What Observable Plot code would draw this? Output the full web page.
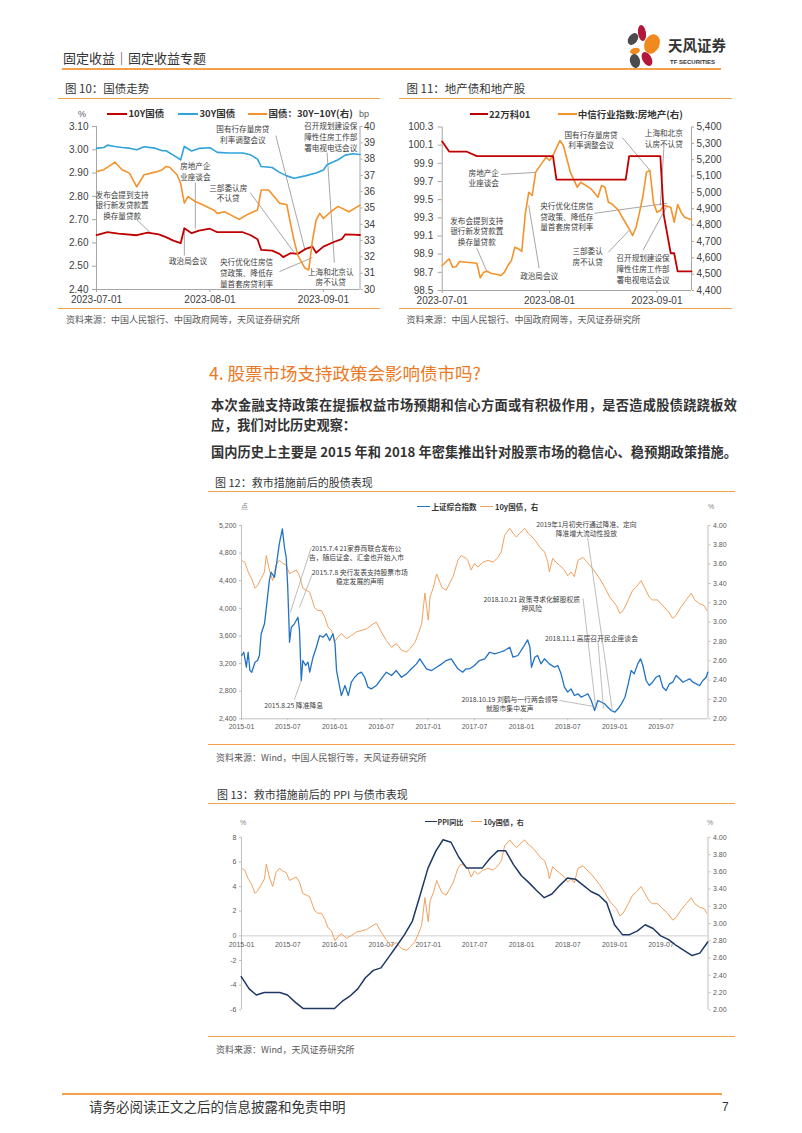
<!DOCTYPE html>
<html lang="zh-CN">
<head>
<meta charset="utf-8">
<title>固定收益专题</title>
<script src="https://cdn.jsdelivr.net/npm/d3@7"></script>
<script src="https://cdn.jsdelivr.net/npm/@observablehq/plot@0.6"></script>
<style>
html,body{margin:0;padding:0;background:#fff;}
#page{position:relative;width:802px;height:1133px;overflow:hidden;background:#fff;font-family:"Noto Sans CJK SC","Noto Sans",sans-serif;color:#333;}
.t{position:absolute;white-space:nowrap;line-height:1;}
.j{position:absolute;line-height:1;text-align:justify;text-align-last:justify;white-space:normal;}
.r{position:absolute;height:0;}
</style>
</head>
<body>
<div id="page"></div>
<script>
// ================= DATA =================
// Chart 10: 国债走势 (2023)
const c10Dates10Y = ["07-01","07-04","07-07","07-12","07-15","07-18","07-20","07-22","07-24","07-25",
  "07-27","07-29","08-01","08-03","08-10","08-12","08-14","08-15","08-18","08-20",
  "08-21","08-23","08-25","08-27","08-29","08-30","09-01","09-04","09-06","09-07",
  "09-09","09-11"];
const c10Vals10Y = [2.634,2.646,2.640,2.633,2.644,2.637,2.625,2.610,2.599,2.663,
  2.642,2.653,2.661,2.646,2.646,2.634,2.616,2.570,2.567,2.553,
  2.539,2.556,2.553,2.573,2.584,2.558,2.584,2.605,2.616,2.637,
  2.636,2.634];
const c10Dates30Y = ["07-01","07-03","07-04","07-06","07-08","07-10","07-12","07-14","07-17","07-19",
  "07-20","07-22","07-24","07-25","07-27","07-29","08-01","08-03","08-06","08-10",
  "08-12","08-14","08-15","08-18","08-20","08-22","08-24","08-27","08-30","09-01",
  "09-02","09-05","09-07","09-09","09-11"];
const c10Vals30Y = [3.006,3.010,3.020,3.014,3.010,3.007,3.000,3.013,3.007,2.996,
  2.996,2.977,2.957,3.014,2.995,3.006,3.009,2.989,2.986,2.986,
  2.979,2.960,2.928,2.924,2.903,2.888,2.878,2.888,2.900,2.913,
  2.936,2.957,2.977,2.983,2.980];
const c10DatesSpread = ["07-01","07-03","07-05","07-06","07-08","07-10","07-12","07-14","07-17","07-19",
  "07-20","07-21","07-23","07-24","07-25","07-26","07-28","07-30","08-02","08-03",
  "08-05","08-09","08-11","08-14","08-15","08-17","08-18","08-20","08-22","08-23",
  "08-24","08-25","08-27","08-28","08-29","08-30","08-31","09-01","09-03","09-05",
  "09-07","09-08","09-11"];
const c10ValsSpread = [37.24,37.35,37.65,37.82,37.35,37.14,36.3,37.04,37.2,37.35,
  37.55,37.5,37.04,36.5,35.3,35.7,35.4,35.2,34.88,34.67,
  34.77,34.3,34.57,34.88,36.1,36.1,35.85,35.3,35.2,34.06,
  33.0,32.1,31.3,31.2,33.0,34.26,34.67,34.36,34.77,35.1,
  34.88,34.77,35.18];
const c10XTicks = ["2023-07-01","2023-08-01","2023-09-01"];
const c10LeftTicks = [2.40,2.50,2.60,2.70,2.80,2.90,3.00,3.10];
const c10RightTicks = [30,31,32,33,34,35,36,37,38,39,40];
const c10AnnText = ["国有行存量房贷\n利率调整会议","召开规划建设保\n障性住房工作部\n署电视电话会议","房地产企\n业座谈会",
  "三部委认房\n不认贷","发布会提到支持\n银行新发贷款置\n换存量贷款","政治局会议",
  "央行优化住房信\n贷政策、降低存\n量首套房贷利率","上海和北京认\n房不认贷"];
const c10AnnDate = ["08-10","09-03","07-28","08-06","07-08","07-26","08-11","09-03"];
const c10AnnVal = [3.068,3.057,2.909,2.816,2.763,2.525,2.473,2.456];
const c10LeadFrom = ["08-19","09-02","07-28","08-12","07-12","07-25","08-20"];
const c10LeadFromV = [3.061,2.988,2.859,2.816,2.700,2.546,2.477];
const c10LeadTo = ["08-27","09-04","07-28","08-24","07-16","07-25","08-29"];
const c10LeadToV = [2.567,2.516,2.662,2.559,2.640,2.662,2.537];

// Chart 11: 地产债和地产股 (2023)
const c11DatesBond = ["07-01","07-03","07-08","07-11","08-02","08-03","08-23","08-24","09-02","09-03","09-05","09-06","09-07","09-11"];
const c11ValsBond = [100.14,100.03,100.03,99.98,99.98,99.72,99.72,99.98,99.98,99.33,98.91,98.91,98.71,98.71];
const c11DatesIdx = ["07-01","07-03","07-04","07-05","07-06","07-08","07-11","07-12","07-13","07-14",
  "07-15","07-17","07-18","07-19","07-20","07-21","07-22","07-23","07-24","07-25",
  "07-26","07-27","07-28","07-30","07-31","08-01","08-02","08-04","08-05","08-07",
  "08-09","08-10","08-13","08-15","08-16","08-17","08-18","08-19","08-21","08-22",
  "08-24","08-25","08-26","08-27","08-28","08-29","08-30","08-31","09-01","09-02",
  "09-03","09-05","09-06","09-07","09-08","09-09","09-11"];
const c11ValsIdx = [4553,4594,4543,4545,4577,4573,4567,4478,4512,4518,
  4506,4498,4492,4512,4553,4584,4665,4655,4640,4869,
  5001,4981,5124,5185,5215,5195,5226,5317,5287,5124,
  5032,5062,5022,4971,5042,5032,4940,4930,4889,4848,
  4777,4736,4787,4879,4981,5124,5134,4940,4879,4889,
  4920,4909,4818,4926,4879,4848,4832];
const c11XTicks = ["2023-07-01","2023-08-01","2023-09-01"];
const c11LeftTicks = [98.5,98.7,98.9,99.1,99.3,99.5,99.7,99.9,100.1,100.3];
const c11RightTicks = [4400,4500,4600,4700,4800,4900,5000,5100,5200,5300,5400];
const c11AnnText = ["国有行存量房贷\n利率调整会议","上海和北京\n认房不认贷","房地产企\n业座谈会",
  "央行优化住房信\n贷政策、降低存\n量首套房贷利率","发布会提到支持\n银行新发贷款置\n换存量贷款","政治局会议",
  "三部委认\n房不认贷","召开规划建设保\n障性住房工作部\n署电视电话会议"];
const c11AnnDate = ["08-13","09-03","07-13","08-06","07-11","07-29","08-12","08-28"];
const c11AnnVal = [100.163,100.179,99.745,99.316,99.157,98.668,98.882,98.74];
const c11LeadFrom = ["08-22","09-03","07-18","08-14","07-11","07-29","08-18","08-28"];
const c11LeadFromV = [100.184,100.064,99.778,99.35,98.965,98.745,98.921,98.943];
const c11LeadTo = ["08-30","09-02","07-28","09-04","07-14","07-26","08-24","09-04"];
const c11LeadToV = [99.822,99.437,99.80,99.46,98.70,99.437,99.163,99.437];

// Chart 12/13: 上证综合指数 & 10y国债 (2015-2019)
const shDates = ["2015-01-02","2015-01-10","2015-01-20","2015-01-27","2015-02-03","2015-02-10","2015-02-23","2015-03-05","2015-03-12","2015-03-19",
  "2015-04-01","2015-04-08","2015-04-20","2015-04-27","2015-05-10","2015-05-19","2015-05-29","2015-06-10","2015-06-18","2015-06-25",
  "2015-07-01","2015-07-05","2015-07-08","2015-07-15","2015-07-27","2015-08-10","2015-08-16","2015-08-23","2015-08-29","2015-09-09",
  "2015-09-18","2015-09-25","2015-10-08","2015-10-21","2015-11-03","2015-11-16","2015-11-29","2015-12-12","2015-12-25","2016-01-02",
  "2016-01-08","2016-01-18","2016-01-27","2016-02-10","2016-02-23","2016-03-06","2016-03-19","2016-04-01","2016-04-14","2016-04-27",
  "2016-05-10","2016-05-23","2016-06-12","2016-07-01","2016-07-21","2016-08-10","2016-08-29","2016-09-18","2016-10-08","2016-10-27",
  "2016-11-16","2016-11-29","2016-12-12","2016-12-25","2017-01-14","2017-02-03","2017-02-23","2017-03-12","2017-04-01","2017-04-14",
  "2017-04-27","2017-05-16","2017-05-29","2017-06-12","2017-07-01","2017-07-20","2017-08-10","2017-08-29","2017-09-18","2017-10-08",
  "2017-10-27","2017-11-16","2017-11-29","2017-12-18","2018-01-08","2018-01-25","2018-02-03","2018-02-09","2018-02-22","2018-03-05",
  "2018-03-18","2018-04-01","2018-04-20","2018-05-10","2018-05-23","2018-06-05","2018-06-18","2018-07-01","2018-07-14","2018-07-27",
  "2018-08-10","2018-08-23","2018-09-05","2018-09-18","2018-10-01","2018-10-14","2018-10-27","2018-11-10","2018-11-23","2018-12-05",
  "2018-12-18","2019-01-01","2019-01-14","2019-01-27","2019-02-10","2019-02-23","2019-03-06","2019-03-18","2019-04-01","2019-04-12",
  "2019-04-21","2019-05-04","2019-05-16","2019-05-29","2019-06-12","2019-06-25","2019-07-08","2019-07-21","2019-08-03","2019-08-16",
  "2019-08-29","2019-09-12","2019-09-25","2019-10-08","2019-10-21","2019-11-03","2019-11-16","2019-11-29","2019-12-12","2019-12-25",
  "2019-12-31"];
const shVals = [3317,3364,3147,3364,3099,3075,3220,3244,3317,3631,
  3776,4000,4402,4523,4450,4668,4934,5151,4885,4740,
  4300,3871,3509,3726,3776,3871,3679,2955,3244,3172,
  3220,3075,3292,3437,3606,3582,3631,3534,3631,3486,
  3099,2907,2737,2882,2737,2930,3002,3051,3075,3002,
  2858,2834,2882,2979,3075,3027,3099,3002,3051,3124,
  3196,3269,3196,3124,3099,3147,3196,3244,3269,3196,
  3124,3075,3124,3124,3172,3244,3269,3364,3341,3364,
  3389,3437,3292,3317,3437,3544,3437,3147,3292,3317,
  3196,3269,3196,3147,3172,3051,2858,2786,2834,2737,
  2762,2713,2737,2762,2665,2520,2665,2640,2617,2568,
  2520,2496,2545,2617,2713,2907,3099,3051,3196,3269,
  3172,2955,2882,2930,3002,3027,2858,2810,2907,2930,
  3027,2979,2930,2955,2979,2930,2907,2882,2955,3002,
  3075];
const ylDates = ["2015-01-05","2015-01-14","2015-01-27","2015-02-10","2015-02-23","2015-03-05","2015-03-19","2015-04-01","2015-04-08","2015-04-20",
  "2015-05-03","2015-05-16","2015-05-29","2015-06-11","2015-06-25","2015-07-08","2015-07-21","2015-08-03","2015-08-16","2015-08-29",
  "2015-09-12","2015-09-25","2015-10-14","2015-10-27","2015-11-10","2015-11-23","2015-12-06","2015-12-19","2016-01-02","2016-01-14",
  "2016-01-27","2016-02-16","2016-03-06","2016-03-26","2016-04-14","2016-05-04","2016-05-30","2016-06-12","2016-07-01","2016-07-21",
  "2016-08-10","2016-08-29","2016-09-18","2016-10-08","2016-10-21","2016-11-10","2016-11-23","2016-12-06","2016-12-19","2017-01-01",
  "2017-01-08","2017-01-21","2017-02-03","2017-02-23","2017-03-12","2017-04-08","2017-04-27","2017-05-10","2017-05-29","2017-06-05",
  "2017-06-18","2017-07-01","2017-07-14","2017-08-03","2017-08-23","2017-09-12","2017-10-01","2017-10-14","2017-10-27","2017-11-16",
  "2017-11-29","2017-12-12","2017-12-25","2018-01-14","2018-01-27","2018-02-16","2018-03-05","2018-03-18","2018-04-01","2018-04-14",
  "2018-04-20","2018-05-03","2018-05-16","2018-05-29","2018-06-18","2018-07-01","2018-07-14","2018-07-27","2018-08-10","2018-08-30",
  "2018-09-18","2018-10-08","2018-11-03","2018-11-23","2018-12-12","2019-01-08","2019-01-21","2019-02-03","2019-02-23","2019-03-12",
  "2019-03-25","2019-04-14","2019-04-27","2019-05-16","2019-05-29","2019-06-18","2019-07-08","2019-07-27","2019-08-16","2019-08-29",
  "2019-09-18","2019-10-08","2019-10-27","2019-11-10","2019-11-29","2019-12-18","2019-12-27"];
const ylVals = [3.633,3.62,3.52,3.45,3.35,3.38,3.45,3.52,3.69,3.54,
  3.43,3.59,3.64,3.61,3.59,3.50,3.52,3.54,3.48,3.35,
  3.33,3.31,3.15,3.12,3.12,3.05,2.95,2.915,2.80,2.85,
  2.88,2.83,2.86,2.90,2.915,2.93,2.98,3.00,2.90,2.81,
  2.74,2.78,2.71,2.69,2.725,2.79,2.88,2.98,3.30,3.02,
  3.26,3.36,3.50,3.36,3.33,3.47,3.64,3.69,3.66,3.64,
  3.54,3.61,3.57,3.62,3.64,3.62,3.67,3.73,3.90,3.97,
  3.92,3.88,3.92,3.97,3.92,3.87,3.81,3.76,3.73,3.62,
  3.52,3.66,3.62,3.59,3.54,3.48,3.52,3.47,3.64,3.67,
  3.61,3.55,3.45,3.36,3.26,3.17,3.09,3.12,3.23,3.33,
  3.36,3.43,3.36,3.26,3.23,3.23,3.17,3.12,3.04,3.07,
  3.16,3.23,3.30,3.23,3.19,3.17,3.12];
const c12XTicks = ["2015-01","2015-07","2016-01","2016-07","2017-01","2017-07","2018-01","2018-07","2019-01","2019-07"];
const c12LeftTicks = [2400,2800,3200,3600,4000,4400,4800,5200];
const c12RightTicks = [2.0,2.2,2.4,2.6,2.8,3.0,3.2,3.4,3.6,3.8,4.0];
const c12AnnText = ["2015.7.4 21家券商联合发布公\n告，随后证金、汇金也开始入市","2015.7.8 央行发表支持股票市场\n稳定发展的声明",
  "2015.8.25 降准降息","2019年1月初央行通过降准、定向\n降准增大流动性投放","2018.10.21 政策寻求化解股权质\n押风险",
  "2018.11.1 高层召开民企座谈会","2018.10.19 刘鹤与一行两会领导\n就股市集中发声"];
const c12AnnDate = ["2016-03-26","2016-04-08","2015-07-24","2018-09-12","2018-02-10","2018-10-02","2017-11-16"];
const c12AnnVal = [4808,4461,2603,5155,4070,3573,2622];
const c12LeadFrom = ["2015-10-01","2015-10-06","2015-07-27","2018-09-17","2018-08-30","2018-10-27","2018-05-30"];
const c12LeadFromV = [4881,4504,2679,5025,4142,3534,2665];
const c12LeadTo = ["2015-07-11","2015-08-16","2015-08-23","2018-12-23","2018-10-18","2018-11-18","2018-10-27"];
const c12LeadToV = [3939,4013,2955,2506,2578,2550,2568];

// Chart 13: PPI同比 (monthly)
const ppiMonths = ["2014-12",
  "2015-01","2015-02","2015-03","2015-04","2015-05","2015-06","2015-07","2015-08","2015-09","2015-10","2015-11","2015-12",
  "2016-01","2016-02","2016-03","2016-04","2016-05","2016-06","2016-07","2016-08","2016-09","2016-10","2016-11","2016-12",
  "2017-01","2017-02","2017-03","2017-04","2017-05","2017-06","2017-07","2017-08","2017-09","2017-10","2017-11","2017-12",
  "2018-01","2018-02","2018-03","2018-04","2018-05","2018-06","2018-07","2018-08","2018-09","2018-10","2018-11","2018-12",
  "2019-01","2019-02","2019-03","2019-04","2019-05","2019-06","2019-07","2019-08","2019-09","2019-10","2019-11","2019-12"];
const ppiVals = [-3.3,
  -4.3,-4.8,-4.6,-4.6,-4.6,-4.8,-5.4,-5.9,-5.9,-5.9,-5.9,-5.9,
  -5.3,-4.9,-4.3,-3.4,-2.8,-2.6,-1.7,-0.8,0.1,1.2,3.3,5.5,
  6.9,7.8,7.6,6.4,5.5,5.5,5.5,6.3,6.9,6.9,5.8,4.9,
  4.3,3.7,3.1,3.4,4.1,4.7,4.6,4.1,3.6,3.3,2.7,0.9,
  0.1,0.1,0.4,0.9,0.6,0.0,-0.3,-0.8,-1.2,-1.6,-1.4,-0.5];
const c13LeftTicks = [-6,-4,-2,0,2,4,6,8];
const c13RightTicks = [2.0,2.2,2.4,2.6,2.8,3.0,3.2,3.4,3.6,3.8,4.0];

// ================= HELPERS =================
const page = document.getElementById("page");
const P = s => new Date(s + "T00:00:00Z");
const ORULE = "#F4A04C";
const CJK = "'Noto Sans CJK SC','Noto Sans',sans-serif";
const LAT = "'Liberation Sans',Arial,sans-serif";
function txt(s, x, y, fs, css = {}) {
  const d = document.createElement("div");
  d.className = "t";
  d.textContent = s;
  Object.assign(d.style, {left: x + "px", top: (y - fs / 2) + "px", fontSize: fs + "px"}, css);
  page.appendChild(d);
  return d;
}
function just(s, x, y, fs, w, css = {}) {
  const d = document.createElement("div");
  d.className = "j";
  d.textContent = s;
  Object.assign(d.style, {left: x + "px", top: (y - fs / 2) + "px", fontSize: fs + "px", width: w + "px"}, css);
  page.appendChild(d);
}
function rule(x1, x2, y, color, w) {
  const d = document.createElement("div");
  d.className = "r";
  Object.assign(d.style, {left: x1 + "px", width: (x2 - x1) + "px", top: (y - w / 2) + "px", borderTop: w + "px solid " + color});
  page.appendChild(d);
}
function place(svg, left, top) {
  svg.style.position = "absolute";
  svg.style.left = left + "px";
  svg.style.top = top + "px";
  svg.style.overflow = "visible";
  page.appendChild(svg);
}
const series = (dates, vals, prefix = "") => dates.map((d, i) => ({x: P(prefix + d), y: vals[i]}));
const annots = (texts, dates, vals, prefix = "") => texts.map((t, i) => ({x: P(prefix + dates[i]), y: vals[i], t}));
const leads = (d1, v1, d2, v2, prefix = "") => d1.map((d, i) => ({x1: P(prefix + d), y1: v1[i], x2: P(prefix + d2[i]), y2: v2[i]}));

// ================= HEADER =================
txt("固定收益｜固定收益专题", 63, 57, 13, {color: "#333"});
rule(62, 721, 68.5, ORULE, 2);
const logo = document.createElementNS("http://www.w3.org/2000/svg", "svg");
logo.setAttribute("width", "46"); logo.setAttribute("height", "46");
logo.innerHTML = `
 <ellipse cx="20" cy="9" rx="4" ry="8" fill="#B3173A" transform="rotate(-8 20 9)"/>
 <ellipse cx="11" cy="15" rx="4.5" ry="6.5" fill="#4B4B4D" transform="rotate(35 11 15)"/>
 <ellipse cx="30" cy="20" rx="7.5" ry="10" fill="#F08A1E" transform="rotate(25 30 20)"/>
 <ellipse cx="13" cy="27" rx="5" ry="3.2" fill="#F08A1E" transform="rotate(-15 13 27)"/>
 <ellipse cx="13" cy="37" rx="5" ry="7" fill="#4B4B4D" transform="rotate(-15 13 37)"/>
 <ellipse cx="25" cy="35" rx="4.5" ry="7.5" fill="#B3173A" transform="rotate(-30 25 35)"/>`;
place(logo, 622, 24);
txt("天风证券", 668, 45, 14.5, {fontWeight: "bold", color: "#333"});
txt("TF SECURITIES", 670, 61.5, 6, {fontFamily: LAT, fontWeight: "bold", color: "#333"});

// ================= CHART 10 =================
txt("图 10：国债走势", 65, 89, 11.5, {color: "#333"});
rule(58, 380, 98.3, ORULE, 1.5);
{
  const y0 = 114, fs = 9.5, w = {fontWeight: "bold", color: "#333"};
  txt("%", 78, y0, 9, {fontFamily: LAT, color: "#595959"});
  rule(106.7, 127.3, y0, "#C00000", 2);
  txt("10Y国债", 128.5, y0, fs, w);
  rule(178.3, 198.3, y0, "#2EA3DC", 2);
  txt("30Y国债", 199.5, y0, fs, w);
  rule(248.3, 266.7, y0, "#F4922B", 2);
  txt("国债：30Y−10Y(右)", 268.5, y0, fs, w);
  txt("bp", 359, y0, 9, {fontFamily: LAT, color: "#595959"});
}
{
  const toL = bp => 2.40 + (bp - 30) * 0.07;
  const fromL = v => Math.round((v - 2.40) / 0.07 + 30);
  const gray = "#a6a6a6";
  const dom = [P("2023-07-01"), P("2023-09-11")];
  const svg = Plot.plot({
    width: 322, height: 190, marginLeft: 38, marginRight: 20.5, marginTop: 8, marginBottom: 19,
    x: {type: "utc", domain: dom},
    y: {domain: [2.40, 3.10]},
    style: {fontFamily: LAT, fontSize: "10px", color: "#404040", background: "none"},
    marks: [
      Plot.ruleY([2.40], {stroke: gray}),
      Plot.ruleX([dom[0]], {stroke: gray}),
      Plot.ruleX([dom[1]], {stroke: gray}),
      Plot.axisX(c10XTicks.map(P), {tickFormat: d3.utcFormat("%Y-%m-%d"), tickSize: 3, tickPadding: 3, stroke: gray, label: null}),
      Plot.axisY(c10LeftTicks, {anchor: "left", tickFormat: d => d.toFixed(2), tickSize: 4, tickPadding: 4, stroke: gray, label: null}),
      Plot.axisY(c10RightTicks.map(toL), {anchor: "right", tickFormat: d => String(fromL(d)), tickSize: 2, tickPadding: 2, stroke: gray, label: null}),
      Plot.link(leads(c10LeadFrom, c10LeadFromV, c10LeadTo, c10LeadToV, "2023-"), {x1: "x1", y1: "y1", x2: "x2", y2: "y2", stroke: "#7f7f7f", strokeWidth: 0.7}),
      Plot.line(series(c10Dates30Y, c10Vals30Y, "2023-"), {x: "x", y: "y", stroke: "#2EA3DC", strokeWidth: 1.6}),
      Plot.line(series(c10Dates10Y, c10Vals10Y, "2023-"), {x: "x", y: "y", stroke: "#C00000", strokeWidth: 1.8}),
      Plot.line(series(c10DatesSpread, c10ValsSpread.map(toL), "2023-"), {x: "x", y: "y", stroke: "#F4922B", strokeWidth: 1.6}),
      Plot.text(annots(c10AnnText, c10AnnDate, c10AnnVal, "2023-"), {x: "x", y: "y", text: "t", fontFamily: CJK, fontSize: 7.6, lineHeight: 1.4, fill: "#404040"})
    ]
  });
  place(svg, 58, 118);
}
rule(58, 380, 308.3, ORULE, 1.5);
txt("资料来源：中国人民银行、中国政府网等，天风证券研究所", 66, 319.5, 9, {color: "#595959"});

// ================= CHART 11 =================
txt("图 11：地产债和地产股", 406.5, 89, 11.5, {color: "#333"});
rule(399, 732, 98.3, ORULE, 1.5);
{
  const y0 = 114.3, fs = 9.5, w = {fontWeight: "bold", color: "#333"};
  rule(470, 488.3, y0, "#C00000", 2);
  txt("22万科01", 489, y0, fs, w);
  rule(558.3, 576.7, y0, "#F4922B", 2);
  txt("中信行业指数:房地产(右)", 577.7, y0, fs, w);
}
{
  const toL = v => 98.5 + (v - 4400) / 1000 * 1.8;
  const fromL = y => Math.round((y - 98.5) / 1.8 * 1000 + 4400);
  const gray = "#a6a6a6";
  const dom = [P("2023-07-01"), P("2023-09-11")];
  const svg = Plot.plot({
    width: 340, height: 190, marginLeft: 41.7, marginRight: 49, marginTop: 8.5, marginBottom: 18,
    x: {type: "utc", domain: dom},
    y: {domain: [98.5, 100.3]},
    style: {fontFamily: LAT, fontSize: "10px", color: "#404040", background: "none"},
    marks: [
      Plot.ruleY([98.5], {stroke: gray}),
      Plot.ruleX([dom[0]], {stroke: gray}),
      Plot.ruleX([dom[1]], {stroke: gray}),
      Plot.axisX(c11XTicks.map(P), {tickFormat: d3.utcFormat("%Y-%m-%d"), tickSize: 3, tickPadding: 3, stroke: gray, label: null}),
      Plot.axisY(c11LeftTicks, {anchor: "left", tickFormat: d => d.toFixed(1), tickSize: 4, tickPadding: 5, stroke: gray, label: null}),
      Plot.axisY(c11RightTicks.map(toL), {anchor: "right", tickFormat: d => d3.format(",")(fromL(d)), tickSize: 2, tickPadding: 3, stroke: gray, label: null}),
      Plot.link(leads(c11LeadFrom, c11LeadFromV, c11LeadTo, c11LeadToV, "2023-"), {x1: "x1", y1: "y1", x2: "x2", y2: "y2", stroke: "#7f7f7f", strokeWidth: 0.7}),
      Plot.line(series(c11DatesIdx, c11ValsIdx.map(toL), "2023-"), {x: "x", y: "y", stroke: "#F4922B", strokeWidth: 1.6}),
      Plot.line(series(c11DatesBond, c11ValsBond, "2023-"), {x: "x", y: "y", stroke: "#C00000", strokeWidth: 1.8}),
      Plot.text(annots(c11AnnText, c11AnnDate, c11AnnVal, "2023-"), {x: "x", y: "y", text: "t", fontFamily: CJK, fontSize: 7.6, lineHeight: 1.4, fill: "#404040"})
    ]
  });
  place(svg, 400, 118);
}
rule(399, 732, 308.3, ORULE, 1.5);
txt("资料来源：中国人民银行、中国政府网等，天风证券研究所", 406.5, 319.5, 9, {color: "#595959"});

// ================= SECTION TEXT =================
txt("4. 股票市场支持政策会影响债市吗?", 209, 373, 17.5, {color: "#EB7A24"});
just("本次金融支持政策在提振权益市场预期和信心方面或有积极作用，是否造成股债跷跷板效", 211, 405, 13.2, 526, {fontWeight: "bold", color: "#333"});
txt("应，我们对比历史观察：", 211, 425, 13.2, {fontWeight: "bold", color: "#333"});
just("国内历史上主要是 2015 年和 2018 年密集推出针对股票市场的稳信心、稳预期政策措施。", 211, 452, 13.2, 526, {fontWeight: "bold", color: "#333"});

// ================= CHART 12 =================
txt("图 12：救市措施前后的股债表现", 215, 482.5, 11, {color: "#333"});
rule(208, 735, 492, ORULE, 1.5);
{
  const y0 = 506.7, fs = 7.5, w = {fontWeight: "bold", color: "#333"};
  txt("点", 241, y0, 7, {color: "#7f7f7f"});
  rule(416.7, 430, y0, "#2272C3", 1.5);
  txt("上证综合指数", 431.5, y0, fs, w);
  rule(480, 493.3, y0, "#F2A15E", 1.5);
  txt("10y国债，右", 495, y0, fs, w);
  txt("%", 708, y0, 7, {fontFamily: LAT, color: "#7f7f7f"});
}
{
  const toL = r => 2400 + (r - 2) * 1400;
  const fromL = v => (v - 2400) / 1400 + 2;
  const gray = "#bfbfbf";
  const dom = [P("2015-01-01"), P("2020-01-01")];
  const svg = Plot.plot({
    width: 527, height: 240, marginLeft: 33, marginRight: 27.5, marginTop: 25, marginBottom: 21.7,
    x: {type: "utc", domain: dom},
    y: {domain: [2400, 5200]},
    style: {fontFamily: LAT, fontSize: "7px", color: "#595959", background: "none"},
    marks: [
      Plot.ruleY([2400], {stroke: gray}),
      Plot.ruleX([dom[0]], {stroke: gray}),
      Plot.ruleX([dom[1]], {stroke: gray}),
      Plot.axisX(c12XTicks.map(m => P(m + "-01")), {tickFormat: d3.utcFormat("%Y-%m"), tickSize: 2, tickPadding: 3, stroke: gray, label: null}),
      Plot.axisY(c12LeftTicks, {anchor: "left", tickFormat: d3.format(","), tickSize: 2, tickPadding: 3, stroke: gray, label: null}),
      Plot.axisY(c12RightTicks.map(toL), {anchor: "right", tickFormat: d => fromL(d).toFixed(2), tickSize: 2, tickPadding: 3, stroke: gray, label: null}),
      Plot.line(series(ylDates, ylVals.map(toL)), {x: "x", y: "y", stroke: "#F2A15E", strokeWidth: 1}),
      Plot.line(series(shDates, shVals), {x: "x", y: "y", stroke: "#2272C3", strokeWidth: 1.3}),
      Plot.link(leads(c12LeadFrom, c12LeadFromV, c12LeadTo, c12LeadToV), {x1: "x1", y1: "y1", x2: "x2", y2: "y2", stroke: "#a0a0a0", strokeWidth: 0.7}),
      Plot.text(annots(c12AnnText, c12AnnDate, c12AnnVal), {x: "x", y: "y", text: "t", fontFamily: CJK, fontSize: 6.8, lineHeight: 1.37, fill: "#404040"})
    ]
  });
  place(svg, 208, 500);
}
rule(208, 735, 745, ORULE, 1.5);
txt("资料来源：Wind，中国人民银行等，天风证券研究所", 216, 757, 9, {color: "#595959"});

// ================= CHART 13 =================
txt("图 13：救市措施前后的 PPI 与债市表现", 217, 794, 11, {color: "#333"});
rule(208, 735, 804, ORULE, 1.5);
{
  const y0 = 822, fs = 7, w = {fontWeight: "bold", color: "#333"};
  txt("%", 240, y0, 7, {fontFamily: LAT, color: "#7f7f7f"});
  rule(424.8, 436.7, y0, "#1F3864", 1.5);
  txt("PPI同比", 437.5, y0, fs, w);
  rule(470.5, 482, y0, "#F2A15E", 1.5);
  txt("10y国债，右", 483.5, y0, fs, w);
  txt("%", 707, y0, 7, {fontFamily: LAT, color: "#7f7f7f"});
}
{
  const toL = r => -6 + (r - 2) * 7;
  const fromL = v => (v + 6) / 7 + 2;
  const gray = "#bfbfbf";
  const dom = [P("2015-01-01"), P("2020-01-01")];
  const ppi = ppiMonths.map((m, i) => ({x: d3.utcDay.offset(d3.utcMonth.offset(P(m + "-01"), 1), -1), y: ppiVals[i]}));
  const svg = Plot.plot({
    width: 527, height: 210, marginLeft: 33, marginRight: 27.5, marginTop: 24.8, marginBottom: 12.7,
    x: {type: "utc", domain: dom, axis: null},
    y: {domain: [-6, 8]},
    style: {fontFamily: LAT, fontSize: "7px", color: "#595959", background: "none"},
    marks: [
      Plot.ruleY([0], {stroke: "#d0d0d0"}),
      Plot.ruleX([dom[0]], {stroke: gray}),
      Plot.ruleX([dom[1]], {stroke: gray}),
      Plot.axisY(c13LeftTicks, {anchor: "left", tickFormat: d => String(d), tickSize: 2, tickPadding: 3, stroke: gray, label: null}),
      Plot.axisY(c13RightTicks.map(toL), {anchor: "right", tickFormat: d => fromL(d).toFixed(2), tickSize: 2, tickPadding: 3, stroke: gray, label: null}),
      Plot.text(c12XTicks, {x: d => P(d + "-01"), y: () => 0, text: d => d, dy: 8.5, fontSize: 7, fill: "#595959"}),
      Plot.line(series(ylDates, ylVals.map(toL)), {x: "x", y: "y", stroke: "#F2A15E", strokeWidth: 1}),
      Plot.line(ppi, {x: "x", y: "y", stroke: "#1F3864", strokeWidth: 1.5})
    ]
  });
  place(svg, 208, 812);
}
rule(208, 735, 1037, ORULE, 1.5);
txt("资料来源：Wind，天风证券研究所", 216, 1049, 9, {color: "#595959"});

// ================= FOOTER =================
rule(62, 722, 1094, ORULE, 2);
txt("请务必阅读正文之后的信息披露和免责申明", 89, 1107, 13.5, {color: "#333"});
txt("7", 722, 1107, 12, {fontFamily: LAT, color: "#333"});
</script>
</body>
</html>
